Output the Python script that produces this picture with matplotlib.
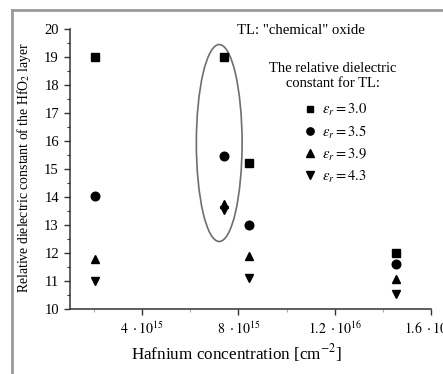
import matplotlib
matplotlib.use("Agg")
import matplotlib.pyplot as plt
from matplotlib.patches import Ellipse
from matplotlib.lines import Line2D
from matplotlib.ticker import FixedLocator, MultipleLocator

plt.rcParams['font.family'] = ['Liberation Serif', 'DejaVu Serif']
plt.rcParams['mathtext.fontset'] = 'stix'

hf_conc = [2.05e15, 7.38e15, 8.43e15, 1.454e16]
eps_30 = [19.0, 19.0, 15.2, 12.0]
eps_35 = [14.05, 15.45, 13.0, 11.6]
eps_39 = [11.8, 13.75, 11.9, 11.07]
eps_43 = [11.0, 13.55, 11.1, 10.55]
series_labels = [r'$\varepsilon_r = 3.0$', r'$\varepsilon_r = 3.5$',
                 r'$\varepsilon_r = 3.9$', r'$\varepsilon_r = 4.3$']
xtick_vals = [4e15, 8e15, 1.2e16, 1.6e16]
xtick_labels = [r'$4\ \cdot 10^{15}$', r'$8\ \cdot 10^{15}$',
                r'$1.2\ \cdot 10^{16}$', r'$1.6\ \cdot 10^{16}$']
ytick_vals = list(range(10, 21))

fig = plt.figure(figsize=(4.43, 3.74), dpi=100)
ax = fig.add_axes([0.158, 0.174, 0.815, 0.748])

markers = ['s', 'o', '^', 'v']
sizes = [5.5, 6.2, 6.0, 6.0]
for ys, m, s, lab in zip([eps_30, eps_35, eps_39, eps_43], markers, sizes, series_labels):
    ax.plot(hf_conc, ys, linestyle='none', marker=m, markersize=s,
            color='black', label=lab)

ell = Ellipse((7.2e15, 15.93), 1.9e15, 7.04, fill=False,
              edgecolor='#6e6e6e', linewidth=1.2)
ax.add_patch(ell)

ax.set_xlim(1.0e15, 1.6e16)
ax.set_ylim(10, 20)
ax.xaxis.set_major_locator(FixedLocator(xtick_vals))
ax.set_xticklabels(xtick_labels, fontsize=10)
ax.xaxis.set_minor_locator(FixedLocator([2e15, 6e15, 1e16, 1.4e16]))
ax.yaxis.set_major_locator(FixedLocator(ytick_vals))
ax.set_yticklabels([str(v) for v in ytick_vals], fontsize=10.5)
ax.yaxis.set_minor_locator(MultipleLocator(0.5))

for side in ['top', 'right']:
    ax.spines[side].set_visible(False)
for side in ['left', 'bottom']:
    ax.spines[side].set_color('#333333')
    ax.spines[side].set_linewidth(1.1)

ax.tick_params(axis='both', which='major', direction='out', length=4,
               width=1.0, color='#333333', pad=4)
ax.tick_params(axis='y', which='minor', direction='out', length=2.5,
               width=0.8, color='#333333')
ax.tick_params(axis='x', which='minor', direction='out', length=2,
               width=0.8, color='#aaaaaa')

ax.set_ylabel(r'Relative dielectric constant of the HfO$_2$ layer', fontsize=9.9)
ax.yaxis.set_label_coords(-0.102, 0.505)
ax.set_xlabel(r'Hafnium concentration [cm$^{-2}$]', fontsize=12.3)
ax.xaxis.set_label_coords(0.461, -0.12)

fig.text(301 / 443, 1 - 30 / 374, 'TL: "chemical" oxide', fontsize=10.6,
         ha='center', va='center')
fig.text(333 / 443, 1 - 76 / 374, 'The relative dielectric\nconstant for TL:',
         fontsize=10.5, ha='center', va='center', multialignment='center',
         linespacing=1.2)

leg = ax.legend(loc='upper left', bbox_to_anchor=(0.645, 0.741), frameon=False,
                fontsize=10.5, handletextpad=0.3,
                labelspacing=0.40, handlelength=1.0, borderaxespad=0,
                borderpad=0, markerscale=0.85)

# gray picture frame (left and top visible)
fig.add_artist(Line2D([12 / 443, 12 / 443], [0, 1 - 10 / 374],
                      transform=fig.transFigure, color='#9a9a9a', linewidth=2))
fig.add_artist(Line2D([12 / 443, 1], [1 - 10 / 374, 1 - 10 / 374],
                      transform=fig.transFigure, color='#9a9a9a', linewidth=2))

fig.savefig('out.png', dpi=100)
